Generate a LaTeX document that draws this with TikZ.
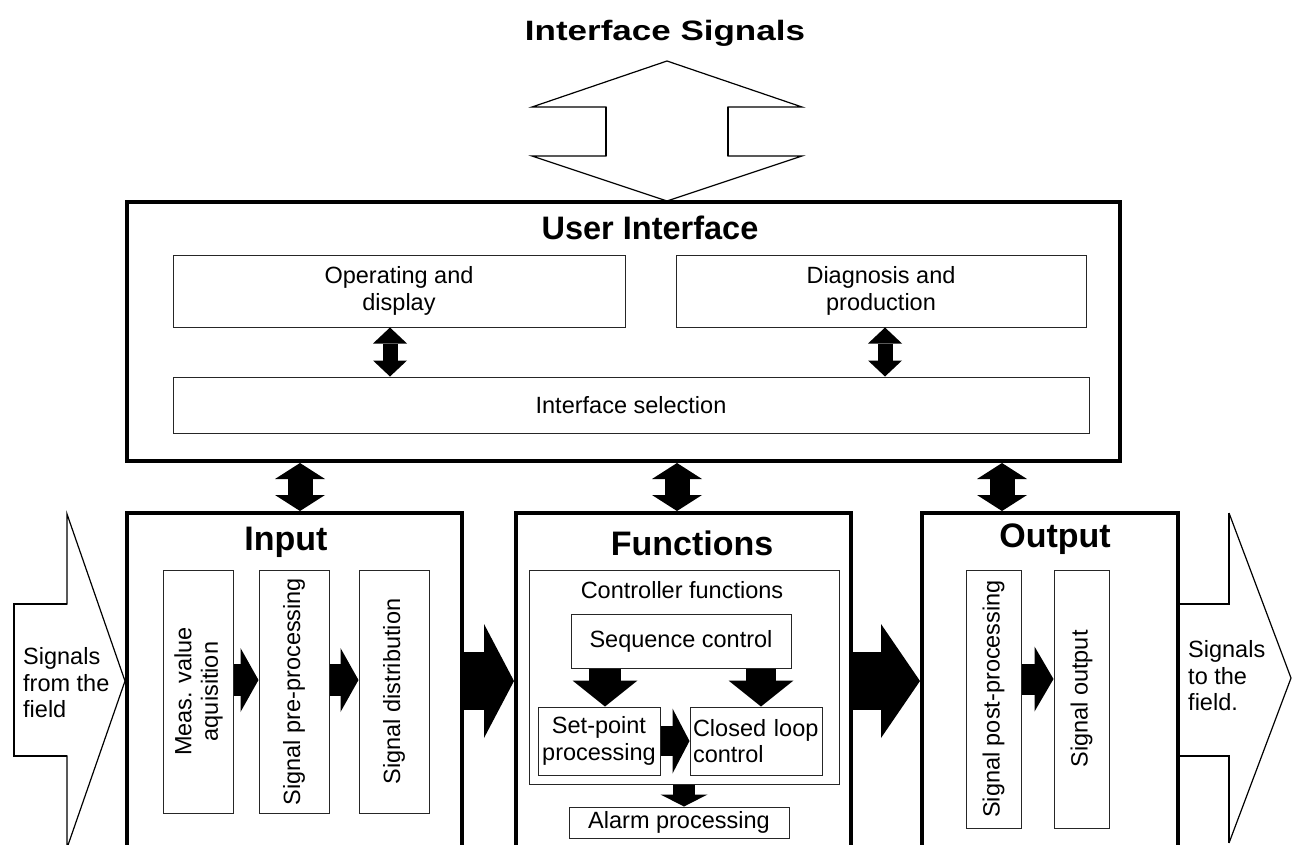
\documentclass[tikz,border=0pt]{standalone}
\usepackage{fontspec}
\setmainfont{Liberation Sans}
\usetikzlibrary{arrows.meta}

\begin{document}
\begin{tikzpicture}[x=1pt,y=-1pt,
  body/.style={font=\fontsize{23.5}{26.5}\selectfont,inner sep=0pt},
  heading/.style={font=\fontsize{34}{36}\selectfont\bfseries,anchor=base,inner sep=0pt},
  outer box/.style={draw,line width=4pt,minimum width=#1,minimum height=336pt},
  inner box/.style={draw=black!85,line width=1pt,inner sep=3pt,align=center,font=\fontsize{23.5}{26.5}\selectfont},
  turned box/.style={inner box,rotate=90,minimum width=243pt,minimum height=70pt},
  outline/.style={line width=1.2pt,line join=miter},
  fat/.style n args={3}{line width=#1,-{Triangle[width=#2,length=#3,line width=0pt]}},
  fat both/.style n args={3}{line width=#1,{Triangle[width=#2,length=#3,line width=0pt]}-{Triangle[width=#2,length=#3,line width=0pt]}}]
  \useasboundingbox (0,0) rectangle (1297,844);
  \clip (0,0) rectangle (1297,844);
  \node[font=\fontsize{28}{30}\selectfont\bfseries,anchor=base,inner sep=0pt] (0) at (665,40) {\scalebox{1.25}[1]{Interface Signals}};
  \node[draw,line width=4pt,minimum width=993pt,minimum height=259pt] (1) at (623.5,331.5) {};
  \node[heading,font=\fontsize{32.5}{34}\selectfont\bfseries] (2) at (650,239) {User Interface};
  \node[inner box,minimum width=452pt,minimum height=72pt] (3) at (399,291) {Operating and\\display};
  \node[inner box,minimum width=410pt,minimum height=72pt] (4) at (881,291) {Diagnosis and\\production};
  \node[inner box,minimum width=916pt,minimum height=56pt] (5) at (631,405) {Interface selection};
  \node[outer box=335pt] (6) at (294.5,681) {};
  \node[heading] (7) at (286,550) {Input};
  \node[turned box] (8) at (198.5,691.5) {Meas. value\\aquisition};
  \node[node distance=95.5pt,right of=8,turned box] (9) {Signal pre-processing};
  \node[node distance=100pt,right of=9,turned box] (10) {Signal distribution};
  \node[outer box=335pt] (11) at (683.5,681) {};
  \node[heading] (12) at (692,555) {Functions};
  \node[inner box,minimum width=310pt,minimum height=214pt] (13) at (684,677) {};
  \node[body,anchor=base] (14) at (682,598) {Controller functions};
  \node[inner box,minimum width=220pt,minimum height=54pt] (15) at (681,641) {Sequence control};
  \node[inner box,minimum width=122pt,minimum height=68pt,inner sep=2pt] (16) at (599,741) {Set-point\\processing};
  \node[node distance=157pt,right of=16,inner box,text width=126pt,minimum height=68pt,align=left,inner sep=3pt] (17) {Closed loop\\control};
  \node[inner box,minimum width=220pt,minimum height=31pt] (18) at (679,822.5) {Alarm processing};
  \node[outer box=256pt] (19) at (1050,681) {};
  \node[heading] (20) at (1055,547) {Output};
  \node[turned box,minimum width=258pt,minimum height=55pt] (21) at (993.5,699) {Signal post-processing};
  \node[node distance=88pt,right of=21,turned box,minimum width=258pt,minimum height=55pt] (22) {Signal output};
  \node[body,align=left,anchor=west] (23) at (23,683) {Signals\\from the\\field};
  \node[body,align=left,anchor=west] (24) at (1188,676) {Signals\\to the\\field.};
  \draw[outline] (667,201) -- (532,156) -- (606,156) -- (606,107) -- (532,107) -- (667,61) -- (802,107) -- (728,107) -- (728,156) -- (802,156) -- cycle;
  \draw[line width=2.5pt] (606,156) -- (606,107) (728,107) -- (728,156);
  \draw[outline] (6.west) -- (67,514) -- (67,604) -- (14,604) -- (14,756) -- (67,756) -- (67,848) -- cycle;
  \draw[line width=2.5pt] (67,604) -- (14,604) -- (14,756) -- (67,756);
  \draw[outline] (1229,513) -- (1291,678) -- (1229,843);
  \draw[line width=2.5pt] (19.east |- 0,604) -- (1229,604) -- (1229,513) (19.east |- 0,756) -- (1229,756) -- (1229,843);
  \draw[fat both={15pt}{34pt}{16pt}] ([xshift=-9pt]3.south) -- ([xshift=-9pt]3.south |- 5.north);
  \draw[fat both={15pt}{34pt}{16pt}] ([xshift=4pt]4.south) -- ([xshift=4pt]4.south |- 5.north);
  \draw[fat both={25pt}{50pt}{16pt}] ([xshift=5.5pt]6.north) -- ([xshift=5.5pt]6.north |- 1.south);
  \draw[fat both={25pt}{50pt}{16pt}] ([xshift=-6.5pt]11.north) -- ([xshift=-6.5pt]11.north |- 1.south);
  \draw[fat both={25pt}{50pt}{16pt}] ([xshift=-48pt]19.north) -- ([xshift=-48pt]19.north |- 1.south);
  \draw[fat={32pt}{64pt}{18pt}] ([yshift=11.5pt]8.south) -- ([yshift=11.5pt]9.north);
  \draw[fat={32pt}{64pt}{18pt}] ([yshift=11.5pt]9.south) -- ([yshift=11.5pt]10.north);
  \draw[fat={58pt}{114pt}{30pt}] (6.east) -- (11.west);
  \draw[fat={58pt}{114pt}{39pt}] (11.east) -- (19.west);
  \draw[fat={32pt}{65pt}{26pt}] ([xshift=-76pt]15.south) -- ([xshift=-76pt]15.south |- 16.north);
  \draw[fat={30pt}{65pt}{26pt}] ([xshift=80pt]15.south) -- ([xshift=80pt]15.south |- 17.north);
  \draw[fat={30pt}{65pt}{17pt}] (16.east) -- (17.west);
  \draw[fat={22pt}{47pt}{12pt}] (13.south) -- (13.south |- 18.north);
  \draw[fat={31pt}{65pt}{19pt}] ([yshift=20pt]21.south) -- ([yshift=20pt]22.north);
\end{tikzpicture}
\end{document}
